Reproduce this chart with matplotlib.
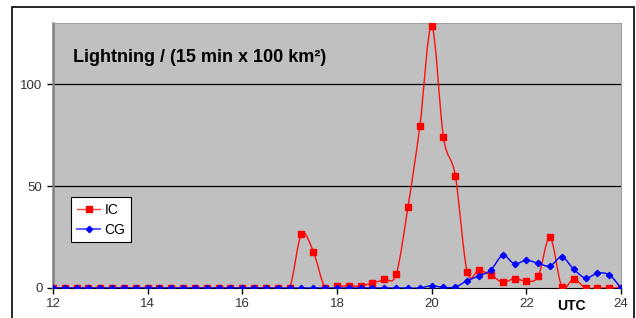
import numpy as np
import matplotlib
matplotlib.use('Agg')
import matplotlib.pyplot as plt
from matplotlib.path import Path
from matplotlib.patches import PathPatch, Rectangle
from matplotlib.lines import Line2D

plt.rcParams['font.family'] = ['Liberation Sans', 'DejaVu Sans']

# time in hours UTC, one value every 15 min
hours = np.arange(12.0, 24.01, 0.25)
ic = [0]*21 + [26.5, 17.8, 0, 0.8, 1, 1, 2.5, 4.2, 6.7, 39.9, 79.3, 128.6, 73.9, 55,
               8, 8.7, 6.4, 2.8, 4.6, 3.4, 5.7, 24.8, 0.7, 4.4, 0, 0, 0, 0]
cg = [0]*32 + [1.1, 0.3, 0.5, 3.6, 5.9, 8.8, 16, 11.9, 13.6, 12.1, 10.8, 15.2,
               9.3, 4.9, 7.2, 6.5, 0]
xticks = [12, 14, 16, 18, 20, 22, 24]
xticklabels = ['12', '14', '16', '18', '20', '22', '24']
yticks = [0, 50, 100]


def smooth_path(x, y):
    # excel-like smoothed line: cubic bezier through every point
    x = np.asarray(x, float)
    y = np.asarray(y, float)
    n = len(x)
    verts = [(x[0], y[0])]
    codes = [Path.MOVETO]
    for i in range(n-1):
        i0 = max(i-1, 0)
        i3 = min(i+2, n-1)
        c1 = (x[i] + (x[i+1]-x[i0])/6.0, y[i] + (y[i+1]-y[i0])/6.0)
        c2 = (x[i+1] - (x[i3]-x[i])/6.0, y[i+1] - (y[i3]-y[i])/6.0)
        verts += [c1, c2, (x[i+1], y[i+1])]
        codes += [Path.CURVE4]*3
    return Path(verts, codes)


fig = plt.figure(figsize=(6.36, 3.18), dpi=100)
fig.patch.set_facecolor('white')
fig.patches.append(Rectangle((12/636., -0.05), 622/636., 1.05-7/318., transform=fig.transFigure,
                             fill=False, edgecolor='black', lw=1.2))

ax = fig.add_axes([53/636., 30/318., 568/636., 265/318.])
ax.set_facecolor('#C0C0C0')
ax.set_xlim(12, 24)
ax.set_ylim(0, 130)

for yv in [50, 100]:
    ax.axhline(yv, color='black', lw=0.9, zorder=1)

ax.add_patch(PathPatch(smooth_path(hours, ic), fill=False, edgecolor='#FF1010', lw=1.0, zorder=3))
ax.plot(hours, ic, ls='none', marker='s', ms=4, color='#FF0000', zorder=4)
ax.add_patch(PathPatch(smooth_path(hours, cg), fill=False, edgecolor='#0000FF', lw=1.0, zorder=5))
ax.plot(hours, cg, ls='none', marker='D', ms=3.2, color='#0000FF', zorder=6)

ax.set_xticks(xticks)
ax.set_xticklabels(xticklabels)
ax.set_yticks(yticks)
ax.tick_params(axis='both', direction='out', length=4, width=1, color='black',
               labelsize=9.5, labelcolor='#333333', pad=3.5)

ax.spines['left'].set_color('#808080')
ax.spines['left'].set_linewidth(1.8)
ax.spines['top'].set_color('#A0A0A0')
ax.spines['right'].set_color('#A0A0A0')
ax.spines['bottom'].set_color('black')

ax.text(73/636., 1-58/318., 'Lightning / (15 min x 100 km\u00b2)', transform=fig.transFigure,
        fontsize=13, fontweight='bold', va='center', ha='left')
ax.text(571/636., 12/318., 'UTC', transform=fig.transFigure,
        fontsize=10, fontweight='bold', va='center', ha='center')

h1 = Line2D([], [], color='#FF4040', marker='s', ms=4, markerfacecolor='#FF0000',
            markeredgecolor='#FF0000', lw=1)
h2 = Line2D([], [], color='#6060FF', marker='D', ms=3.2, markerfacecolor='#0000FF',
            markeredgecolor='#0000FF', lw=1.5)
leg = ax.legend([h1, h2], ['IC', 'CG'], loc='upper left', bbox_to_anchor=(0.032, 0.343),
                borderaxespad=0., fontsize=10, frameon=True, fancybox=False,
                handlelength=1.7, handletextpad=0.3, borderpad=0.4, labelspacing=0.45)
leg.get_frame().set_edgecolor('black')
leg.get_frame().set_linewidth(0.8)
leg.get_frame().set_facecolor('white')
leg.get_frame().set_alpha(1)

fig.savefig('out.png', dpi=100)
